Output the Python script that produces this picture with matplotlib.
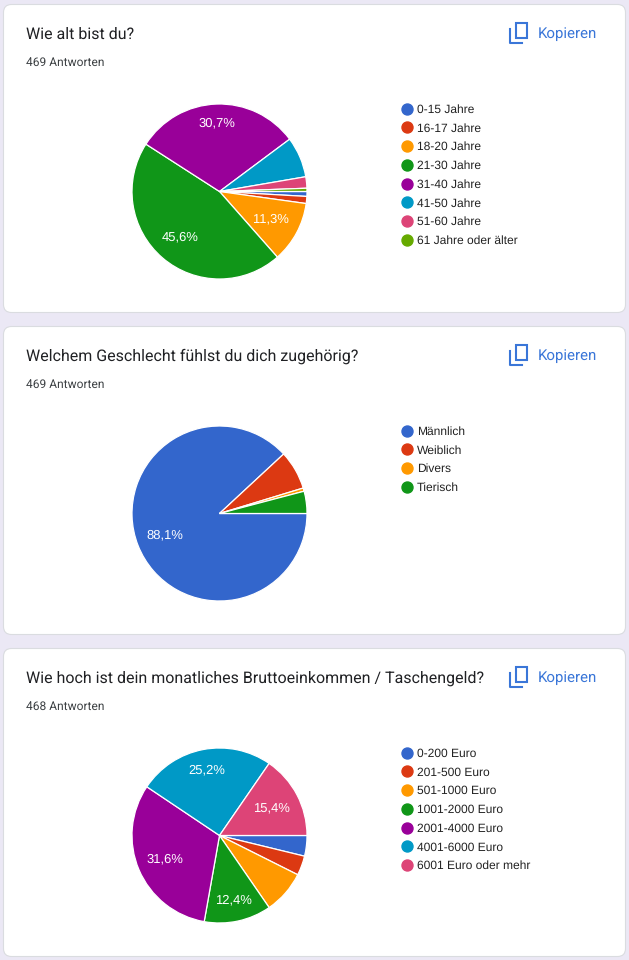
import matplotlib
matplotlib.use('Agg')
from matplotlib import pyplot as plt
from matplotlib.lines import Line2D
from matplotlib.patches import FancyBboxPatch, Rectangle
import numpy as np

W, H = 629, 960
px = 0.72  # 1 css pixel in points at dpi 100

plt.rcParams['text.hinting'] = 'no_hinting'
plt.rcParams['text.hinting_factor'] = 1

colors = ['#3366cc', '#dc3912', '#ff9900', '#109618', '#990099', '#0099c6', '#dd4477', '#66aa00']

titles = ['Wie alt bist du?',
          'Welchem Geschlecht fühlst du dich zugehörig?',
          'Wie hoch ist dein monatliches Bruttoeinkommen / Taschengeld?']
antworten = ['469 Antworten', '469 Antworten', '468 Antworten']

alter_labels = ['0-15 Jahre', '16-17 Jahre', '18-20 Jahre', '21-30 Jahre',
                '31-40 Jahre', '41-50 Jahre', '51-60 Jahre', '61 Jahre oder älter']
alter_werte = [0.9, 1.3, 11.3, 45.6, 30.7, 7.5, 2.1, 0.6]

geschlecht_labels = ['Männlich', 'Weiblich', 'Divers', 'Tierisch']
geschlecht_werte = [88.1, 7.2, 0.6, 4.1]

einkommen_labels = ['0-200 Euro', '201-500 Euro', '501-1000 Euro', '1001-2000 Euro',
                    '2001-4000 Euro', '4001-6000 Euro', '6001 Euro oder mehr']
einkommen_werte = [3.8, 3.6, 8.0, 12.4, 31.6, 25.2, 15.4]

all_labels = [alter_labels, geschlecht_labels, einkommen_labels]
all_werte = [alter_werte, geschlecht_werte, einkommen_werte]
card_tops = [4, 326, 648]

# how far out each percent label sits, per printed slice
label_r = [[0.66, 0.69, 0.78], [0.67], [0.75, 0.68, 0.76, 0.67]]


def fmt(p):
    # google only prints the label on big slices
    if p < 10:
        return ''
    return f'{p:.1f}%'.replace('.', ',')


fig = plt.figure(figsize=(W / 100, H / 100), dpi=100, facecolor='#ebe8f5')
ax = fig.add_axes([0, 0, 1, 1])
ax.set_xlim(0, W)
ax.set_ylim(H, 0)
ax.axis('off')

for i in range(3):
    top = card_tops[i]
    ax.add_patch(FancyBboxPatch((3.5, top + 0.5), 622, 308, boxstyle='round,pad=0,rounding_size=8',
                                fc='white', ec='#dadce0', lw=0.8))
    ax.text(26, top + 30, titles[i], family='Roboto', fontsize=15.75 * px, color='#202124', va='center')
    ax.text(26, top + 59, antworten[i], family='Roboto', fontsize=12 * px, color='#3c4043', va='center')

    # copy icon
    ax.add_patch(Rectangle((515.7, top + 19.3), 11.5, 15, fc='none', ec='#3a76d8', lw=1.5))
    ax.plot([510, 510, 522], [top + 25, top + 39, top + 39], color='#3a76d8', lw=1.5)
    ax.text(538, top + 29.5, 'Kopieren', family='Roboto', fontsize=14.6 * px, color='#3a76d8', va='center')

    # pie: 175 px diameter
    pie_ax = fig.add_axes([(132) / W, 1 - (top + 100 + 175) / H, 175 / W, 175 / H])
    wedges, texts, pct = pie_ax.pie(all_werte[i], colors=colors, startangle=0, counterclock=False,
                                    radius=1, autopct=fmt, pctdistance=1.0,
                                    wedgeprops={'edgecolor': 'white', 'linewidth': 0.9},
                                    textprops={'family': 'Liberation Sans', 'fontsize': 13 * px,
                                               'color': 'white'})
    pie_ax.set_xlim(-1, 1)
    pie_ax.set_ylim(-1, 1)

    printed = [t for t in pct if t.get_text()]
    for t, r in zip(printed, label_r[i]):
        x, y = t.get_position()
        t.set_position((x * r, y * r))

    handles = [Line2D([], [], marker='o', ls='', ms=11 * px, color=colors[j])
               for j in range(len(all_labels[i]))]
    fig.legend(handles, all_labels[i], loc='upper left', frameon=False,
               bbox_to_anchor=(399.5 / W, 1 - (top + 100) / H), borderaxespad=0, borderpad=0,
               labelspacing=0.64, handletextpad=0.3, handlelength=1.2,
               prop={'family': 'Liberation Sans', 'size': 11.8 * px}, labelcolor='#222222')

fig.savefig('out.png', dpi=100, facecolor=fig.get_facecolor())
